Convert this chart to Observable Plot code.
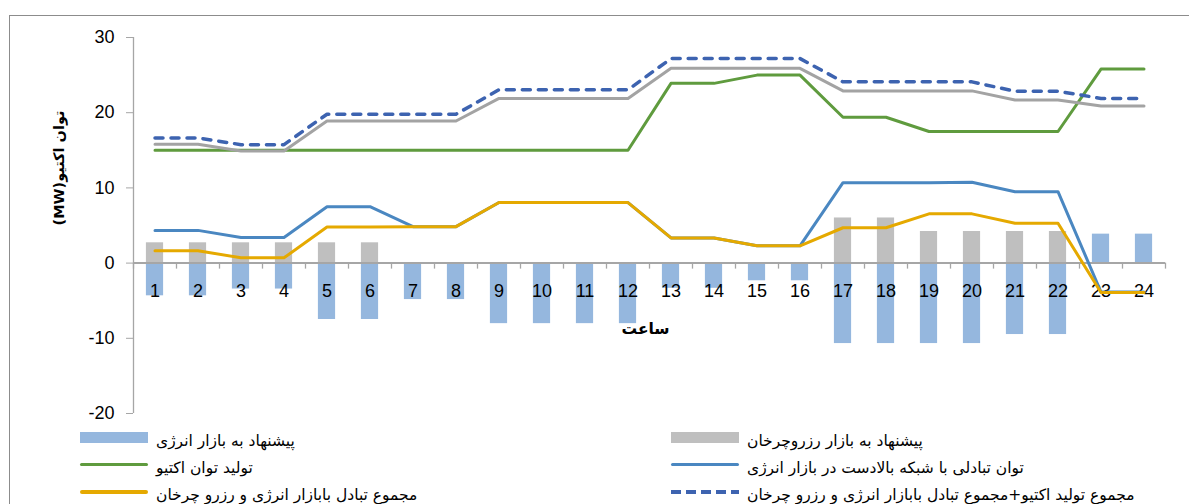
<!DOCTYPE html>
<html>
<head>
<meta charset="utf-8">
<script src="https://cdn.jsdelivr.net/npm/d3@7"></script>
<script src="https://cdn.jsdelivr.net/npm/@observablehq/plot@0.6"></script>
<style>
  html, body { margin: 0; padding: 0; background: #fff; }
  body { width: 1189px; height: 504px; overflow: hidden; position: relative; }
  #frame { position: absolute; left: 9px; top: 15px; width: 1200px; height: 520px;
           border: 1px solid #8c8c8c; pointer-events: none; z-index: 5; box-sizing: border-box; }
  #chart { position: absolute; left: 0; top: 0; }
  .lg-sw { position: absolute; }
  .lg-txt { position: absolute; white-space: nowrap; direction: rtl; unicode-bidi: isolate;
            font-family: "DejaVu Sans", sans-serif; font-size: 15.5px; color: #000; line-height: 20px; }
</style>
</head>
<body>
<div id="chart"></div>
<div id="legend"></div>
<div id="frame"></div>
<script>
// ---- data ----
const hours = [1,2,3,4,5,6,7,8,9,10,11,12,13,14,15,16,17,18,19,20,21,22,23,24];
const yTicks = [-20, -10, 0, 10, 20, 30];
const energyOffer   = [-4.35,-4.35,-3.45,-3.45,-7.5,-7.5,-4.85,-4.85,-8.05,-8.05,-8.05,-8.05,-3.35,-3.35,-2.35,-2.35,-10.7,-10.7,-10.7,-10.7,-9.5,-9.5,3.85,3.85];
const reserveOffer  = [2.7,2.7,2.7,2.7,2.7,2.7,0,0,0,0,0,0,0,0,0,0,6.0,6.0,4.2,4.2,4.2,4.2,0,0];
const activeGen     = [15,15,15,15,15,15,15,15,15,15,15,15,23.9,23.9,25,25,19.4,19.4,17.5,17.5,17.5,17.5,25.8,25.8];
const gridExchange  = [4.35,4.35,3.4,3.4,7.5,7.5,4.85,4.85,8.05,8.05,8.05,8.05,3.35,3.35,2.3,2.3,10.7,10.7,10.7,10.75,9.5,9.5,-3.85,-3.85];
const totalExchange = [1.65,1.65,0.7,0.7,4.8,4.8,4.85,4.85,8.05,8.05,8.05,8.05,3.35,3.35,2.3,2.3,4.7,4.7,6.55,6.55,5.3,5.3,-3.9,-3.9];
const greyTotal     = [15.8,15.8,14.9,14.9,18.9,18.9,18.9,18.9,21.9,21.9,21.9,21.9,25.9,25.9,25.9,25.9,22.9,22.9,22.9,22.9,21.7,21.7,20.9,20.9];
const genPlusExch   = [16.65,16.65,15.75,15.75,19.8,19.8,19.8,19.8,23.05,23.05,23.05,23.05,27.2,27.2,27.2,27.2,24.1,24.1,24.1,24.1,22.85,22.85,21.9,21.9];

const xTitle = "ساعت";
const yTitle = "(MW)توان اکتیو";
const legendLabels = [
  "پیشنهاد به بازار انرژی",
  "پیشنهاد به بازار رزروچرخان",
  "تولید توان اکتیو",
  "توان تبادلی با شبکه بالادست در بازار انرژی",
  "مجموع تبادل بابازار انرژی و رزرو چرخان",
  "مجموع تولید اکتیو+مجموع تبادل بابازار انرژی و رزرو چرخان"
];

// ---- styles ----
const C = {
  energy: "#95b7de", reserve: "#bfbfbf", green: "#5f9b3e", blue: "#4a87c1",
  yellow: "#e5a900", dashed: "#3d63b0", greyLine: "#a3a3a3", axis: "#a6a6a6"
};

const rows = hours.map((h, i) => ({
  h, energy: energyOffer[i], reserve: reserveOffer[i], gen: activeGen[i],
  exch: gridExchange[i], tot: totalExchange[i], grey: greyTotal[i], sum: genPlusExch[i]
}));
const xDomain = [hours[0] - 0.5, hours[hours.length - 1] + 0.5];
const bounds = d3.range(xDomain[0], xDomain[1] + 0.01, 1);
const halfBar = 0.2;

const lineOpts = {x: "h", strokeWidth: 3, strokeLinejoin: "round"};

const marks = [
  Plot.ruleX([xDomain[0]], {y1: d3.min(yTicks), y2: d3.max(yTicks), stroke: C.axis, strokeWidth: 1.3}),
  Plot.axisY(yTicks, {anchor: "left", tickSize: 7, tickPadding: 12, stroke: C.axis, fill: "#000",
                      fontSize: 18, label: null, tickFormat: d => String(d)}),
  Plot.rectY(rows, {x1: d => d.h - halfBar, x2: d => d.h + halfBar, y1: 0, y2: "energy", fill: C.energy}),
  Plot.rectY(rows, {x1: d => d.h - halfBar, x2: d => d.h + halfBar, y1: 0, y2: "reserve", fill: C.reserve}),
  Plot.ruleY([0], {stroke: C.axis, strokeWidth: 2}),
  Plot.ruleX(bounds, {y1: 0, y2: -0.8, stroke: C.axis, strokeWidth: 1.3}),
  Plot.text(hours, {x: d => d, y: 0, dy: 28, text: d => String(d), fontSize: 18, fill: "#000"}),
  Plot.lineY(rows, {...lineOpts, y: "exch", stroke: C.blue}),
  Plot.lineY(rows, {...lineOpts, y: "tot", stroke: C.yellow}),
  Plot.lineY(rows, {...lineOpts, y: "gen", stroke: C.green}),
  Plot.lineY(rows, {...lineOpts, y: "grey", stroke: C.greyLine}),
  Plot.lineY(rows, {...lineOpts, y: "sum", stroke: C.dashed, strokeWidth: 3.5, strokeDasharray: "8,8", strokeLinecap: "round"}),
  Plot.text([xTitle], {x: (xDomain[0] + xDomain[1]) / 2, y: 0, dy: 66, dx: -4, text: d => d,
                        fontFamily: "DejaVu Sans", fontWeight: "bold", fontSize: 15.5, fill: "#000"}),
  Plot.text([yTitle], {frameAnchor: "left", dx: -74, rotate: -90, text: d => d,
                        fontFamily: "DejaVu Sans", fontWeight: "bold", fontSize: 14.5, fill: "#000"})
];

const chart = Plot.plot({
  width: 1189, height: 430,
  marginLeft: 133, marginRight: 24, marginTop: 37, marginBottom: 17,
  x: {domain: xDomain, axis: null},
  y: {domain: [d3.min(yTicks), d3.max(yTicks)], axis: null},
  style: {background: "transparent", fontFamily: "'Liberation Sans', Arial, sans-serif", fontSize: "18px", color: "#000"},
  marks
});
document.getElementById("chart").appendChild(chart);

// ---- legend (HTML, below the plot area) ----
const legendKinds = [
  {type: "bar", color: C.energy},
  {type: "bar", color: C.reserve},
  {type: "line", color: C.green},
  {type: "line", color: C.blue},
  {type: "line", color: C.yellow},
  {type: "dash", color: C.dashed}
];
const colX = [80, 671];
const rowY = [437.5, 464.5, 492];
const legend = document.getElementById("legend");
legendLabels.forEach((label, i) => {
  const col = i % 2, row = Math.floor(i / 2);
  const k = legendKinds[i];
  const sw = document.createElement("div");
  sw.className = "lg-sw";
  sw.style.left = colX[col] + "px";
  sw.style.width = "68px";
  if (k.type === "bar") {
    sw.style.top = (rowY[row] - 6) + "px"; sw.style.height = "11px"; sw.style.background = k.color;
  } else if (k.type === "line") {
    sw.style.top = (rowY[row] - 2) + "px"; sw.style.height = "3.5px"; sw.style.background = k.color;
    sw.style.borderRadius = "2px";
  } else {
    sw.style.top = (rowY[row] - 2) + "px"; sw.style.height = "4px";
    sw.style.background = `repeating-linear-gradient(90deg, ${k.color} 0 10px, transparent 10px 15px)`;
  }
  legend.appendChild(sw);
  const t = document.createElement("div");
  t.className = "lg-txt";
  t.textContent = label;
  t.style.left = (colX[col] + 76) + "px";
  t.style.top = (rowY[row] - 7) + "px";
  legend.appendChild(t);
});
</script>
</body>
</html>
